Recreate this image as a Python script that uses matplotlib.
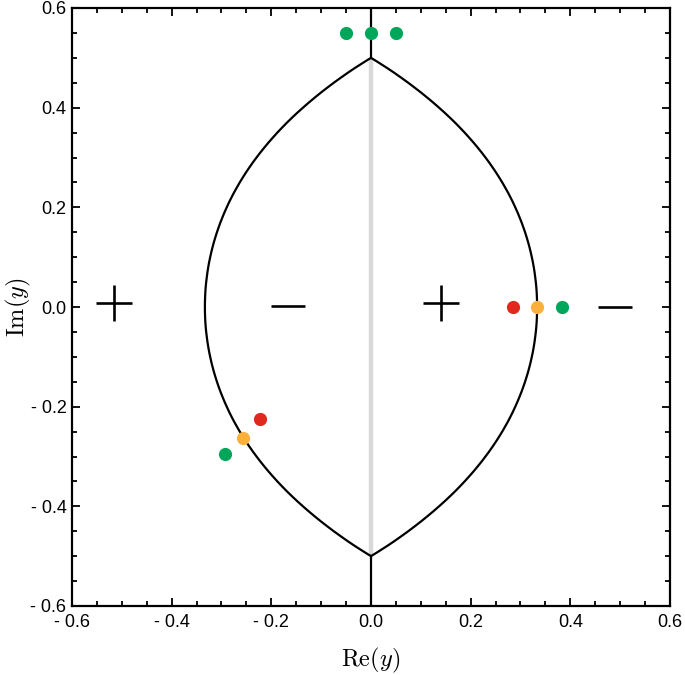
import matplotlib
matplotlib.use("Agg")
import matplotlib.pyplot as plt
from matplotlib.ticker import MultipleLocator, FuncFormatter
from matplotlib.path import Path
from matplotlib.patches import PathPatch
import numpy as np

# Upper-left quadrant of the lens-shaped boundary
curve_y = [0.50, 0.48, 0.46, 0.44, 0.42, 0.40, 0.38, 0.36, 0.34, 0.32, 0.30,
           0.28, 0.26, 0.24, 0.22, 0.20, 0.18, 0.16, 0.14, 0.12, 0.10, 0.08,
           0.06, 0.04, 0.02, 0.00]
curve_x = [0.0, -0.0317, -0.0608, -0.0879, -0.1131, -0.1365, -0.1583, -0.1784,
           -0.1969, -0.2140, -0.2297, -0.2441, -0.2572, -0.2691, -0.2799,
           -0.2895, -0.2981, -0.3057, -0.3123, -0.3180, -0.3227, -0.3266,
           -0.3295, -0.3317, -0.3329, -0.3333]

# vertical branch cut / stems along Re(y)=0
gray_y = [-0.5, 0.5]
stem_top_y = [0.5, 0.6]
stem_bot_y = [-0.5, -0.6]

# points
green_x = [-0.05, 0.0, 0.05, 0.383, -0.292]
green_y = [0.55, 0.55, 0.55, 0.0, -0.295]
orange_x = [0.333, -0.256]
orange_y = [0.0, -0.262]
red_x = [0.285, -0.223]
red_y = [0.0, -0.225]

# sign labels
plus_x = [-0.516, 0.141]
plus_y = [0.009, 0.008]
minus_x = [-0.166, 0.49]
minus_y = [0.002, 0.0]

plt.rcParams['mathtext.fontset'] = 'cm'

fig = plt.figure(figsize=(6.85, 6.75), dpi=100)
ax = fig.add_axes([72 / 685, 1 - 606 / 675, 598 / 685, 598 / 675])

cx = np.array(curve_x)
cy = np.array(curve_y)
left_x = np.concatenate([cx, cx[::-1][1:]])
left_y = np.concatenate([cy, -cy[::-1][1:]])


def smooth_path(xs, ys):
    """Catmull-Rom through the read points, as cubic Bezier path segments."""
    P = np.column_stack([xs, ys])
    n = len(P)
    verts = [P[0]]
    codes = [Path.MOVETO]
    for i in range(n - 1):
        p0 = P[i - 1] if i > 0 else P[i]
        p1 = P[i]
        p2 = P[i + 1]
        p3 = P[i + 2] if i + 2 < n else P[i + 1]
        c1 = p1 + (p2 - p0) / 6.0
        c2 = p2 - (p3 - p1) / 6.0
        verts += [c1, c2, p2]
        codes += [Path.CURVE4] * 3
    return Path(verts, codes)


ax.plot([0, 0], gray_y, color='#d9d9d9', lw=3.2, zorder=1, solid_capstyle='butt')
for sx in (1, -1):
    ax.add_patch(PathPatch(smooth_path(sx * left_x, left_y), fill=False,
                           edgecolor='black', lw=1.6, zorder=2))
ax.plot([0, 0], stem_top_y, color='black', lw=1.6, zorder=2)
ax.plot([0, 0], stem_bot_y, color='black', lw=1.6, zorder=2)

ax.plot(plus_x, plus_y, ls='none', marker='+', ms=25.5, mew=1.9, color='black', zorder=3)
ax.plot(minus_x, minus_y, ls='none', marker='_', ms=24, mew=1.9, color='black', zorder=3)

ax.plot(red_x, red_y, ls='none', marker='o', ms=9.5, color='#E0281E', mec='none', zorder=4)
ax.plot(orange_x, orange_y, ls='none', marker='o', ms=9.5, color='#FBB03B', mec='none', zorder=4)
ax.plot(green_x, green_y, ls='none', marker='o', ms=9.5, color='#00A65A', mec='none', zorder=4)

ax.set_xlim(-0.6, 0.6)
ax.set_ylim(-0.6, 0.6)


def fmt(v, pos):
    if abs(v) < 1e-9:
        return "0.0"
    if v < 0:
        return "- %.1f" % abs(v)
    return "%.1f" % v


for axis in (ax.xaxis, ax.yaxis):
    axis.set_major_locator(MultipleLocator(0.2))
    axis.set_minor_locator(MultipleLocator(0.05))
    axis.set_major_formatter(FuncFormatter(fmt))

ax.tick_params(which='both', direction='in', top=True, right=True, width=1.3,
               labelsize=13)
ax.tick_params(axis='x', which='major', pad=6)
ax.tick_params(axis='y', which='major', pad=4)
ax.tick_params(which='major', length=5.5)
ax.tick_params(which='minor', length=3.5)
for lab in ax.get_xticklabels() + ax.get_yticklabels():
    lab.set_family('Liberation Sans')
for sp in ax.spines.values():
    sp.set_linewidth(1.6)

fig.text(371 / 685, 1 - 660 / 675, r'$\mathrm{Re}(y)$', fontsize=17.5,
         ha='center', va='center')
fig.text(18 / 685, 1 - 307 / 675, r'$\mathrm{Im}(y)$', fontsize=17.5,
         ha='center', va='center', rotation=90)

fig.savefig('out.png', dpi=100)
